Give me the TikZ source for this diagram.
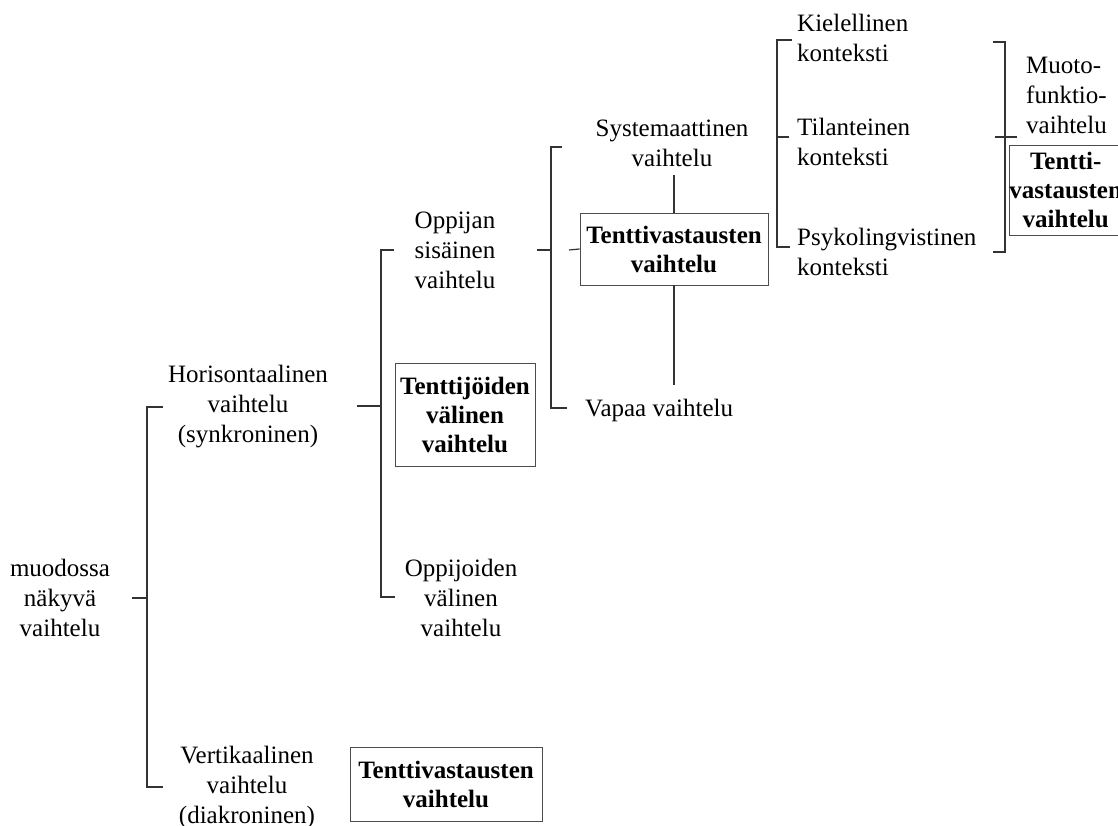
\documentclass[tikz,border=0pt]{standalone}
\usepackage{fontspec}
\setmainfont{Liberation Serif}
\begin{document}
\begin{tikzpicture}[x=1pt,y=-1pt,
  lbl/.style={font=\fontsize{25}{30}\selectfont, align=center, inner sep=0pt},
  lbll/.style={font=\fontsize{25}{30}\selectfont, align=left, inner sep=0pt, anchor=west},
  bx/.style={draw=black!70, line width=0.9pt, font=\bfseries\fontsize{25}{29}\selectfont, align=center, inner sep=0pt},
  ln/.style={draw=black!80, line width=1.2pt}]
\useasboundingbox (0,0) rectangle (1118,826);
\clip (0,0) rectangle (1118,826);
% nodes
\node[lbl] (muo) at (60,598) {muodossa\\näkyvä\\vaihtelu};
\node[lbl] (hor) at (248,407) {Horisontaalinen\\vaihtelu\\(synkroninen)};
\node[lbl] (ver) at (247,787) {Vertikaalinen\\vaihtelu\\(diakroninen)};
\node[bx, minimum width=192pt, minimum height=74pt] (tvb) at (446,784) {Tenttivastausten\\vaihtelu};
\node[lbl] (ops) at (455,250) {Oppijan\\sisäinen\\vaihtelu};
\node[bx, minimum width=140pt, minimum height=103pt] (tjv) at (465,415) {Tenttijöiden\\välinen\\vaihtelu};
\node[lbl] (opv) at (461,598) {Oppijoiden\\välinen\\vaihtelu};
\node[lbl] (sys) at (672,143) {Systemaattinen\\vaihtelu};
\node[bx, minimum width=188pt, minimum height=72pt] (tva) at (674,249) {Tenttivastausten\\vaihtelu};
\node[lbll] (vap) at (585,410) {Vapaa vaihtelu};
\node[lbll] (kie) at (797,38) {Kielellinen\\konteksti};
\node[lbll] (til) at (797,142) {Tilanteinen\\konteksti};
\node[lbll] (psy) at (797,252) {Psykolingvistinen\\konteksti};
\node[lbll] (muf) at (1026,95) {Muoto-\\funktio-\\vaihtelu};
\node[bx, minimum width=112pt, minimum height=90pt, anchor=west] (tvr) at (1009,190) {Tentti-\\vastausten\\vaihtelu};
% bracket 1
\coordinate (b1t) at (147,407);
\coordinate (b1m) at (147,598);
\coordinate (b1b) at (147,787);
\draw[ln] (132,598) -- (b1m);
\draw[ln] (163,407) -- (b1t) -- (b1b) -- (163,787);
% bracket 2
\coordinate (b2t) at (381,250);
\coordinate (b2m) at (381,406);
\coordinate (b2b) at (381,597);
\draw[ln] (357,406) -- (b2m);
\draw[ln] (394,250) -- (b2t) -- (b2b) -- (395,597);
% bracket 3
\coordinate (b3t) at (551,147);
\coordinate (b3m) at (551,250);
\coordinate (b3b) at (551,408);
\draw[ln] (537,250) -- (b3m);
\draw[ln] (562,147) -- (b3t) -- (b3b) -- (567,408);
\draw[ln] (569,250) -- (tva.west);
\draw[ln] (tva.north) -- ++(0,-38);
\draw[ln] (tva.south) -- ++(0,100);
% bracket 4
\coordinate (b4t) at (777,40);
\coordinate (b4b) at (777,247);
\draw[ln] (792,40) -- (b4t) -- (b4b) -- (790,247);
\draw[ln] (777,137) -- (789,137);
% closing bracket
\coordinate (b5t) at (1005,42);
\coordinate (b5b) at (1005,252);
\draw[ln] (993,42) -- (b5t) -- (b5b) -- (993,252);
\draw[ln] (995,137) -- (1017,137);
\end{tikzpicture}
\end{document}
